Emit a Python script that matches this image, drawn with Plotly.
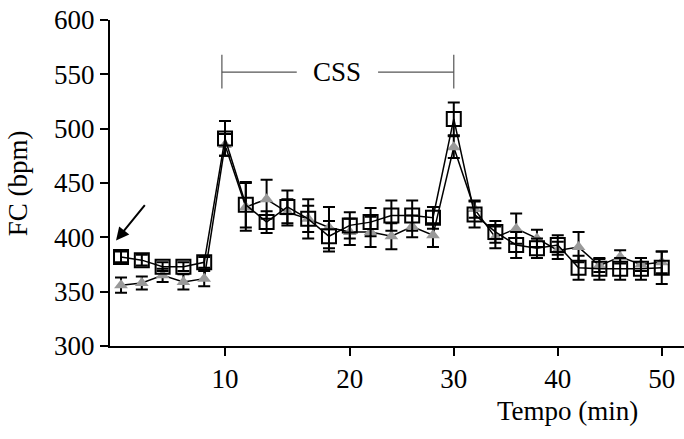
import plotly.graph_objects as go

# Data (index positions of sampling points, 2-min spacing)
point_index = list(range(27))
tick_positions = [5, 11, 16, 21, 26]
tick_labels = ["10", "20", "30", "40", "50"]

fc_square = [382, 379, 373, 373, 377, 491, 430, 414, 428, 417, 401, 411, 414, 420,
             420, 418, 509, 421, 405, 393, 390, 393, 372, 371, 371, 371, 372]
err_square = [5, 5, 4, 4, 5, 16, 21, 10, 15, 18, 14, 12, 13, 14,
              14, 10, 15, 12, 10, 12, 9, 9, 11, 10, 10, 10, 15]

fc_triangle = [356, 358, 365, 359, 362, 485, 428, 435, 423, 417, 409, 405, 405, 401,
               410, 402, 483, 426, 400, 408, 399, 388, 391, 374, 382, 375, 377]
err_triangle = [7, 6, 6, 7, 7, 10, 22, 18, 12, 12, 19, 12, 14, 12,
                10, 11, 10, 8, 10, 14, 8, 8, 14, 6, 6, 6, 10]

y_ticks = [300, 350, 400, 450, 500, 550, 600]

FONT = "Liberation Serif"
FS = 27

fig = go.Figure()

fig.add_trace(go.Scatter(
    x=point_index, y=fc_triangle, mode="lines+markers",
    line=dict(color="black", width=1.5),
    marker=dict(symbol="triangle-up", size=12, color="#999999",
                line=dict(width=0)),
    error_y=dict(type="data", array=err_triangle, color="black",
                 thickness=2, width=6),
    showlegend=False,
))

fig.add_trace(go.Scatter(
    x=point_index, y=fc_square, mode="lines+markers",
    line=dict(color="black", width=1.5),
    marker=dict(symbol="square-open", size=14, color="black",
                line=dict(width=2)),
    error_y=dict(type="data", array=err_square, color="black",
                 thickness=2, width=6),
    showlegend=False,
))

# CSS bracket
css_left, css_right, css_y = 4.85, 16.0, 552
gap_left, gap_right = 8.45, 12.36
br = dict(color="#555555", width=1.2)
fig.add_shape(type="line", x0=css_left, x1=gap_left, y0=css_y, y1=css_y, line=br)
fig.add_shape(type="line", x0=gap_right, x1=css_right, y0=css_y, y1=css_y, line=br)
fig.add_shape(type="line", x0=css_left, x1=css_left, y0=537, y1=568, line=br)
fig.add_shape(type="line", x0=css_right, x1=css_right, y0=537, y1=568, line=br)
fig.add_annotation(x=(gap_left + gap_right) / 2, y=css_y, text="CSS",
                   showarrow=False, font=dict(family=FONT, size=FS, color="black"))

# Arrow
fig.add_annotation(x=-0.24, y=397, ax=30, ay=-37, text="", showarrow=True,
                   arrowhead=2, arrowsize=1.3, arrowwidth=2, arrowcolor="black")

# Axis titles
fig.add_annotation(xref="paper", yref="paper", x=-0.16, y=0.5, text="FC (bpm)",
                   textangle=-90, showarrow=False, xanchor="center", yanchor="middle",
                   font=dict(family=FONT, size=FS, color="black"))
fig.add_annotation(xref="paper", yref="paper", x=0.797, y=-0.2, text="Tempo (min)",
                   showarrow=False, xanchor="center", yanchor="middle",
                   font=dict(family=FONT, size=FS, color="black"))

fig.update_layout(
    width=684, height=439,
    margin=dict(l=110, r=0, t=20, b=93),
    plot_bgcolor="white", paper_bgcolor="white",
    font=dict(family=FONT, size=FS, color="black"),
    xaxis=dict(range=[-0.53, 27.07], tickmode="array", tickvals=tick_positions,
               ticktext=tick_labels, showgrid=False, zeroline=False,
               showline=True, linecolor="black", linewidth=2,
               ticks="outside", ticklen=8, tickwidth=1.5, tickcolor="black",
               tickfont=dict(family=FONT, size=FS, color="black")),
    yaxis=dict(range=[300, 600], tickmode="array", tickvals=y_ticks,
               showgrid=False, zeroline=False,
               showline=True, linecolor="black", linewidth=2,
               ticks="outside", ticklen=8, tickwidth=1.5, tickcolor="black",
               tickfont=dict(family=FONT, size=FS, color="black")),
)

fig.write_html("out.html")
